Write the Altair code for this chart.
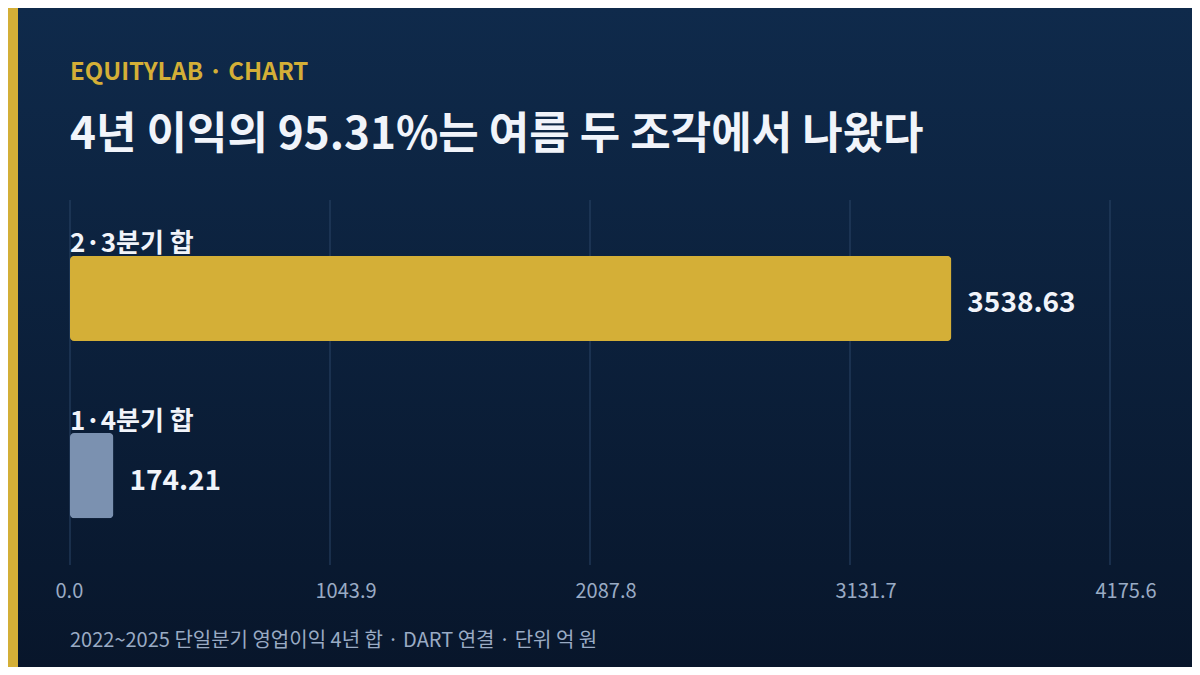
import pandas as pd
import altair as alt

# data
groups = ["2·3분기 합", "1·4분기 합"]
values = [3538.63, 174.21]
value_labels = ["3538.63", "174.21"]
x_ticks = [0.0, 1043.9, 2087.8, 3131.7, 4175.6]

header = "EQUITYLAB · CHART"
title = "4년 이익의 95.31%는 여름 두 조각에서 나왔다"
footer = "2022~2025 단일분기 영업이익 4년 합 · DART 연결 · 단위 억 원"

FONT = "Noto Sans CJK KR"
GOLD = "#d4af37"
SLATE = "#7b91b0"
WHITE = "#f1f4fa"
MUTED = "#9aabc4"

W, H = 1040, 365
PAD = {"left": 62, "top": 192, "right": 82, "bottom": 102}

df = pd.DataFrame({"group": groups, "value": values, "label": value_labels})
ticks_df = pd.DataFrame({"value": x_ticks})
one = pd.DataFrame({"k": [0]})

# background gradient + gold stripe
bg = alt.Chart(one).mark_rect(
    fill=alt.Gradient(
        gradient="linear",
        stops=[alt.GradientStop(color="#0f2a4b", offset=0),
               alt.GradientStop(color="#08162b", offset=1)],
        x1=0, x2=0, y1=0, y2=1,
    )
).encode(
    x=alt.value(-PAD["left"]), x2=alt.value(W + PAD["right"]),
    y=alt.value(-PAD["top"]), y2=alt.value(H + PAD["bottom"]),
)

stripe = alt.Chart(one).mark_rect(color=GOLD).encode(
    x=alt.value(-PAD["left"]), x2=alt.value(-PAD["left"] + 10),
    y=alt.value(-PAD["top"]), y2=alt.value(H + PAD["bottom"]),
)

x_axis = alt.Axis(
    values=x_ticks, format=".1f", title=None, domain=False, ticks=False,
    grid=False, zindex=1,
    labelColor=MUTED, labelFont=FONT, labelFontSize=20, labelPadding=16,
    labelAlign="left", labelOffset=-15, labelFlush=False,
)
x_enc = alt.X(
    "value:Q",
    scale=alt.Scale(domain=[0, x_ticks[-1]], nice=False, zero=True),
    axis=x_axis,
)
y_enc = alt.Y(
    "group:N", sort=groups, axis=None,
    scale=alt.Scale(paddingInner=0.52, paddingOuter=0.29, align=0.544),
)

grid = alt.Chart(ticks_df).mark_rule(color="#2a4466", strokeWidth=1).encode(
    x=x_enc,
    y=alt.value(0), y2=alt.value(H),
)

bars = alt.Chart(df).mark_bar(cornerRadius=4).encode(
    x=x_enc,
    y=y_enc,
    color=alt.Color("group:N", sort=groups,
                    scale=alt.Scale(domain=groups, range=[GOLD, SLATE]),
                    legend=None),
)

cat_labels = alt.Chart(df).mark_text(
    align="left", baseline="alphabetic", dy=-46,
    font=FONT, fontSize=26, fontWeight="bold", color=WHITE,
).encode(x=alt.value(0), y=y_enc, text="group:N")

val_labels = alt.Chart(df).mark_text(
    align="left", baseline="middle", dx=16, dy=6,
    font=FONT, fontSize=28, fontWeight="bold", color=WHITE,
).encode(x=x_enc, y=y_enc, text="label:N")

head = alt.Chart(one).mark_text(
    text=header, align="left", baseline="alphabetic",
    font=FONT, fontSize=24, fontWeight="bold", color=GOLD,
).encode(x=alt.value(0), y=alt.value(-120))

ttl = alt.Chart(one).mark_text(
    text=title, align="left", baseline="alphabetic",
    font=FONT, fontSize=44, fontWeight="bold", color=WHITE,
).encode(x=alt.value(0), y=alt.value(-51))

foot = alt.Chart(one).mark_text(
    text=footer, align="left", baseline="alphabetic",
    font=FONT, fontSize=20, color=MUTED,
).encode(x=alt.value(0), y=alt.value(447))

chart = alt.layer(
    bg, stripe, grid, bars, cat_labels, val_labels, head, ttl, foot
).properties(
    width=W, height=H, autosize="none", padding=PAD,
    background="#08162b",
).configure_view(stroke=None)

chart.save("out.html", embed_options={"renderer": "svg", "actions": False})
